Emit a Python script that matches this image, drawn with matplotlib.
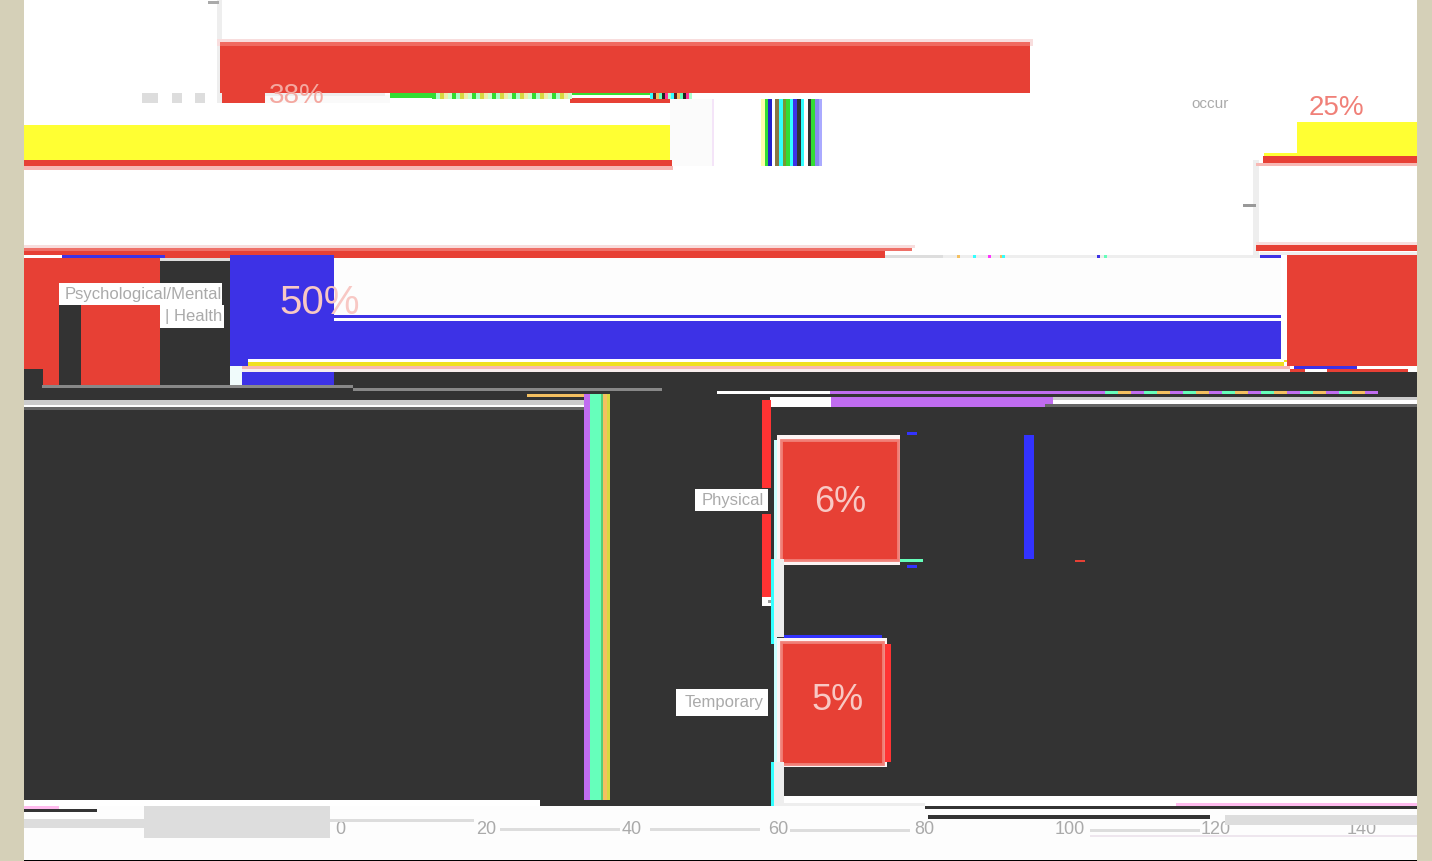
import matplotlib
matplotlib.use('Agg')
import matplotlib.pyplot as plt
from matplotlib.patches import Rectangle

plt.rcParams['font.family'] = ['Liberation Sans', 'DejaVu Sans']

W, H = 1432, 861

# chart values, counts on the x axis
categories = ['', 'occur', 'Psychological/Mental Health', 'Physical', 'Temporary']
counts = [111, 105, 144, 16, 14]
percents = ['38%', '25%', '50%', '6%', '5%']
tick_values = [0, 20, 40, 60, 80, 100, 120, 140]

RED = '#e74035'
BLUE = '#3d32e6'
BLUE2 = '#3333ff'
YELLOW = '#ffff33'
DARK = '#333333'
BEIGE = '#d5d0b8'
PALE = '#eeeeee'
ROSE = '#f7b8b4'
PURPLE = '#c06cf0'
MINT = '#66ffbb'
ORANGE = '#f4c060'
LIME = '#d8d840'
CYAN = '#33ffff'
GREEN = '#33dd33'
RED2 = '#ff3333'
GREY = '#dddddd'

fig = plt.figure(figsize=(W / 100, H / 100), dpi=100, facecolor=BEIGE)


def layer(z):
  a = fig.add_axes([0, 0, 1, 1], zorder=z)
  a.set_xlim(0, W)
  a.set_ylim(H, 0)
  a.axis('off')
  return a


def band(a, x0, x1, y0, y1, color):
  a.add_patch(Rectangle((x0, y0), x1 - x0, y1 - y0, facecolor=color, edgecolor='none', antialiased=False))


def stripes(a, x0, y0, y1, colors, width):
  for i, c in enumerate(colors):
    band(a, x0 + i * width, x0 + (i + 1) * width, y0, y1, c)


under = layer(0)
over = layer(2)

# panel background
for b in [
  (24, 1417, 0, 372, 'white'),
  (24, 1417, 372, 800, DARK),
  (24, 1417, 800, 861, '#fdfdfd'),
  (217, 222, 0, 103, PALE),
  (208, 219, 1, 4, '#aaaaaa'),
  (217, 1033, 39, 46, '#f8dddd'),
  (24, 673, 166, 170, ROSE),
  (1253, 1259, 160, 255, PALE),
  (1243, 1256, 204, 207, '#999999'),
  (777, 900, 435, 565, '#fdf4f4'),
  (777, 887, 638, 767, '#fdf4f4'),
  (774, 777, 440, 640, '#ccffff'),
  (774, 777, 640, 806, '#ccffff'),
]:
  band(under, *b)

# chart axes with the x scale of the tick labels
ax = fig.add_axes([24 / W, 1 - 820 / H, (1417 - 24) / W, 820 / H], zorder=1)
ax.patch.set_alpha(0)
ppu = 7.3
ax.set_xlim((24 - 340) / ppu, (1417 - 340) / ppu)
ax.set_ylim(820, 0)
ax.set_xticks(tick_values)
ax.set_xticklabels([str(v) for v in tick_values], fontsize=13, color='#aaaaaa')
ax.tick_params(axis='x', length=0, pad=1)
ax.set_yticks([])
for s in ax.spines.values():
  s.set_visible(False)

x_left, x_right = ax.get_xlim()


def hbar(y0, y1, start_px, value, color, edge='none'):
  # a bar that runs over the right edge goes on at the left edge
  left = (start_px - 340) / ppu
  first = min(value, x_right - left)
  ax.barh((y0 + y1) / 2, first, left=left, height=y1 - y0, color=color, edgecolor=edge, linewidth=2)
  if value > first:
    ax.barh((y0 + y1) / 2, value - first, left=x_left, height=y1 - y0, color=color, edgecolor=edge, linewidth=0)


hbar(44, 93, 220, counts[0], RED)
hbar(125, 160, 1297, counts[1], YELLOW)
hbar(255, 366, 230, counts[2], BLUE)
hbar(440, 560, 781, counts[3], RED, '#f08078')
hbar(642, 764, 781, counts[4], RED, '#f08078')

# broken regions drawn over the bars
for b in [
  (220, 1030, 42, 46, '#f06a60'),
  (265, 390, 95, 103, '#fafafa'),
  (265, 385, 93, 96, PALE),
  (390, 432, 93, 98, GREEN),
  (500, 650, 93, 95, GREEN),
  (570, 690, 98, 103, RED),
  (222, 265, 93, 103, RED),
  (24, 217, 93, 103, 'white'),
  (142, 158, 93, 103, '#dddddd'),
  (172, 182, 93, 103, '#dddddd'),
  (195, 205, 93, 103, '#dddddd'),
  (670, 713, 99, 166, '#fbfbfb'),
  (712, 714, 99, 166, '#f4e4f8'),
  (1297, 1417, 99, 122, 'white'),
  (1264, 1417, 153, 156, YELLOW),
  (1297, 1417, 122, 153, YELLOW),
  (1263, 1417, 156, 163, RED),
  (1256, 1417, 163, 166, ROSE),
  (24, 672, 160, 166, RED),
  (1256, 1417, 242, 245, '#f8dddd'),
  (1256, 1417, 245, 251, RED),
  (1260, 1417, 252, 255, PALE),
  (1287, 1417, 255, 366, RED),
  (1284, 1287, 255, 362, '#f0e020'),
  (24, 915, 245, 248, '#f8dddd'),
  (24, 912, 248, 251, '#ee7068'),
  (24, 885, 251, 255, RED),
  (24, 62, 255, 258, 'white'),
  (62, 165, 255, 258, BLUE),
  (165, 230, 255, 258, RED),
  (334, 885, 255, 258, RED),
  (885, 943, 255, 258, GREY),
  (943, 1260, 255, 258, PALE),
  (24, 160, 258, 369, RED),
  (160, 230, 258, 261, GREY),
  (160, 230, 261, 385, DARK),
  (24, 43, 369, 385, DARK),
  (43, 59, 369, 385, RED),
  (59, 81, 305, 385, DARK),
  (81, 160, 309, 385, RED),
  (230, 334, 258, 385, BLUE),
  (334, 1281, 258, 315, '#fdfdfd'),
  (334, 1281, 315, 318, BLUE),
  (334, 1281, 318, 321, 'white'),
  (334, 1281, 321, 359, BLUE),
  (248, 1281, 359, 362, 'white'),
  (248, 1284, 362, 366, '#f0e020'),
  (238, 1290, 366, 369, ROSE),
  (238, 1290, 369, 372, '#f8eeee'),
  (1281, 1287, 255, 360, 'white'),
  (230, 242, 366, 385, '#f0fbfb'),
  (242, 306, 372, 385, BLUE),
  (24, 230, 385, 400, DARK),
  (42, 353, 385, 388, '#888888'),
  (353, 662, 388, 391, '#888888'),
  (24, 584, 400, 405, '#cccccc'),
  (24, 584, 405, 407, 'white'),
  (24, 584, 407, 410, '#666666'),
  (1294, 1357, 366, 369, BLUE),
  (1290, 1305, 369, 372, RED),
  (1327, 1408, 369, 372, RED),
  (717, 830, 391, 394, 'white'),
  (830, 1105, 391, 394, PURPLE),
  (770, 831, 397, 407, 'white'),
  (831, 1053, 397, 407, PURPLE),
  (1053, 1417, 397, 400, '#cccccc'),
  (1053, 1417, 400, 404, 'white'),
  (1045, 1417, 404, 407, '#666666'),
  (762, 771, 400, 488, RED2),
  (762, 771, 514, 597, RED2),
  (762, 781, 597, 606, 'white'),
  (768, 780, 600, 603, '#999999'),
  (771, 774, 559, 644, CYAN),
  (774, 784, 559, 637, PALE),
  (771, 774, 762, 806, CYAN),
  (774, 784, 762, 806, PALE),
  (784, 882, 635, 638, BLUE2),
  (885, 891, 644, 762, RED2),
  (907, 917, 432, 435, BLUE2),
  (907, 917, 565, 568, BLUE2),
  (1024, 1034, 435, 559, BLUE2),
  (900, 923, 559, 562, MINT),
  (1075, 1085, 560, 562, RED),
  (584, 590, 394, 806, PURPLE),
  (590, 601, 394, 806, MINT),
  (601, 603, 394, 806, '#55cc77'),
  (603, 607, 394, 806, ORANGE),
  (607, 610, 394, 806, LIME),
  (527, 584, 394, 397, ORANGE),
  # bottom strip
  (24, 540, 800, 806, 'white'),
  (540, 771, 800, 806, DARK),
  (24, 59, 806, 809, '#ffbbee'),
  (24, 97, 809, 812, DARK),
  (24, 144, 819, 828, GREY),
  (144, 330, 806, 838, GREY),
  (330, 360, 819, 822, GREY),
  (360, 474, 819, 822, GREY),
  (500, 620, 828, 831, GREY),
  (650, 760, 828, 831, GREY),
  (790, 910, 829, 832, GREY),
  (784, 1417, 796, 806, 'white'),
  (784, 925, 803, 806, PALE),
  (1176, 1417, 803, 806, '#ffbbee'),
  (925, 1417, 806, 809, DARK),
  (928, 1210, 815, 819, DARK),
  (1225, 1417, 815, 825, GREY),
  (1090, 1200, 829, 832, GREY),
  (1090, 1417, 835, 837, '#eee6ee'),
  (24, 1417, 860, 861, 'black'),
]:
  band(over, *b)

stripes(over, 761, 99, 166,
        ['#ffffaa', GREEN, '#2222cc', 'white', '#887744', CYAN, '#779933', GREEN, CYAN, BLUE, '#333333',
         CYAN, 'white', '#333333', GREEN, '#8888ee', '#aaaaff'], 3.6)
stripes(over, 432, 93, 99, [GREEN, '#aaffcc', LIME, '#eeeeaa', '#ccffcc'] * 7, 4)
stripes(over, 650, 93, 99, [CYAN, '#552222', ORANGE, MINT, '#222222', '#ff3399', '#aaffcc'] * 2, 3)
stripes(over, 1105, 391, 394, [MINT, ORANGE, PURPLE] * 7, 13)
for x, c in [(957, ORANGE), (973, CYAN), (988, '#ff33ff'), (1000, ORANGE), (1002, CYAN), (1097, BLUE), (1104, MINT)]:
  band(over, x, x + 3, 255, 258, c)

# white boxes of the category labels
for b in [
  (59, 222, 283, 305, 'white'),
  (160, 224, 305, 328, 'white'),
  (695, 768, 489, 511, 'white'),
  (676, 768, 689, 716, 'white'),
]:
  band(over, *b)

label_style = dict(color='#aaaaaa', fontsize=12, va='center')
over.text(222, 294, 'Psychological/Mental', ha='right', **label_style)
over.text(222, 316, '| Health', ha='right', **label_style)
over.text(1210, 104, categories[1], ha='center', color='#aaaaaa', fontsize=11, va='center')
over.text(764, 500, categories[3], ha='right', **label_style)
over.text(764, 703, categories[4], ha='right', **label_style)

value_style = dict(color='#f8c8c4', ha='center', va='center')
over.text(320, 303, percents[2], fontsize=29, **value_style)
over.text(840, 503, percents[3], fontsize=26, **value_style)
over.text(838, 700, percents[4], fontsize=26, **value_style)
over.text(1336, 108, percents[1], fontsize=20, color='#f08078', ha='center', va='center')
t = over.text(297, 96, percents[0], fontsize=20, color='#f4a8a0', ha='center', va='center')
t.set_clip_path(Rectangle((260, 84), 80, 9, transform=over.transData))

# side margins stay clean
band(over, 0, 24, 0, H, BEIGE)
band(over, 1417, W, 0, H, BEIGE)

fig.savefig('out.png', dpi=100, facecolor=BEIGE)
